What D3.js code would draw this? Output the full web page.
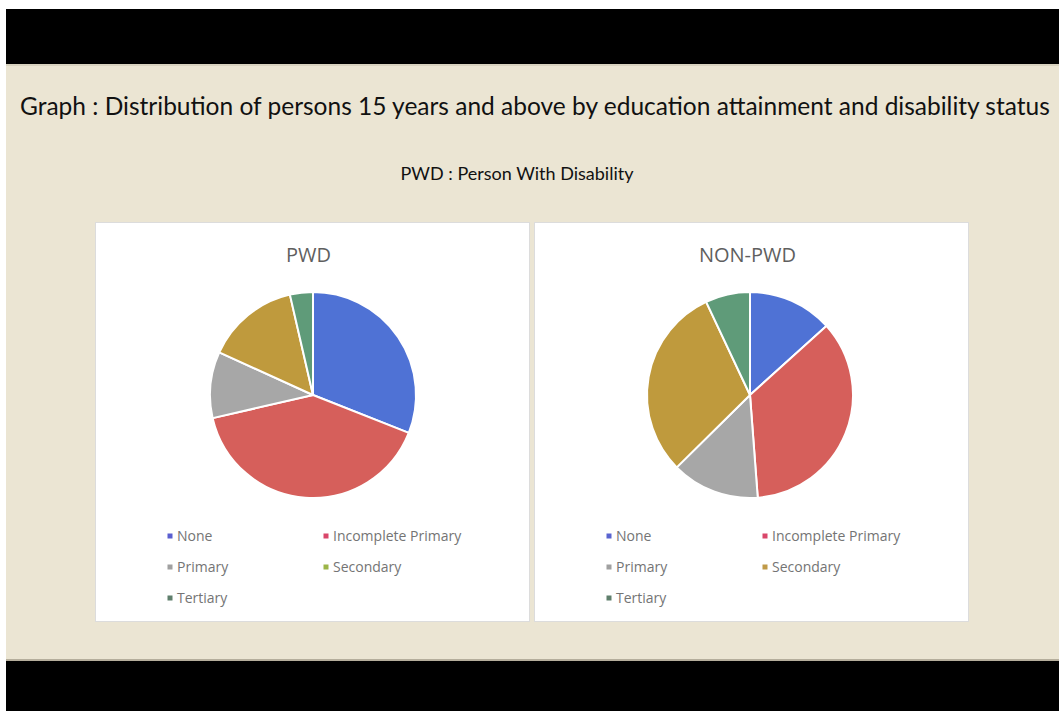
<!DOCTYPE html>
<html>
<head>
<meta charset="utf-8">
<script src="https://cdnjs.cloudflare.com/ajax/libs/d3/7.8.5/d3.min.js"></script>
<style>
  html, body { margin: 0; padding: 0; background: #ffffff; }
  svg { display: block; }
</style>
</head>
<body>
<svg id="chart" width="1059" height="711"></svg>
<script>
// Education attainment categories and shares (%) for persons 15 years and above
const categories = ["None", "Incomplete Primary", "Primary", "Secondary", "Tertiary"];
const pwdValues = [31.0, 40.4, 10.4, 14.6, 3.6];
const nonPwdValues = [13.3, 35.5, 13.8, 30.4, 7.0];
const panelTitles = ["PWD", "NON-PWD"];

const sliceColors = ["#4f72d5", "#d65f5b", "#a7a7a7", "#bf9a3d", "#5f9b79"];
// the PWD legend shows a green swatch for Secondary
const pwdLegendColors = ["#5a5fd0", "#d9466a", "#a0a0a0", "#9cb548", "#5f7f6c"];
const nonPwdLegendColors = ["#5a64d0", "#d9466a", "#a0a0a0", "#c09a48", "#5f7f6c"];

const svg = d3.select("#chart");

// slide frame: black bands top and bottom, beige body
svg.append("rect").attr("x", 6).attr("y", 9).attr("width", 1053).attr("height", 55).attr("fill", "#000000");
svg.append("rect").attr("x", 6).attr("y", 64).attr("width", 1053).attr("height", 597).attr("fill", "#ebe5d3");
svg.append("rect").attr("x", 6).attr("y", 64).attr("width", 1053).attr("height", 2).attr("fill", "#d8d2bf");
svg.append("rect").attr("x", 6).attr("y", 659).attr("width", 1053).attr("height", 2).attr("fill", "#b5ae9c");
svg.append("rect").attr("x", 6).attr("y", 661).attr("width", 1053).attr("height", 50).attr("fill", "#000000");

// main title, sized so it fits the slide width
const title = svg.append("text")
  .attr("x", 20).attr("y", 115)
  .attr("font-family", "Lato, 'Open Sans', sans-serif")
  .attr("font-size", 26)
  .attr("fill", "#111111")
  .text("Graph : Distribution of persons 15 years and above by education attainment and disability status");
let fs = 26;
while (title.node().getComputedTextLength() > 1030 && fs > 12) {
  fs -= 0.25;
  title.attr("font-size", fs);
}

svg.append("text")
  .attr("x", 517).attr("y", 180)
  .attr("text-anchor", "middle")
  .attr("font-family", "Lato, 'Open Sans', sans-serif")
  .attr("font-size", 18)
  .attr("fill", "#111111")
  .text("PWD : Person With Disability");

const panels = [
  { x: 95, title: panelTitles[0], values: pwdValues, legend: pwdLegendColors, cx: 218 },
  { x: 534, title: panelTitles[1], values: nonPwdValues, legend: nonPwdLegendColors, cx: 216 }
];
const panelW = 435, panelTop = 222, panelH = 400;

const pie = d3.pie().sort(null).value(d => d).startAngle(0).endAngle(2 * Math.PI);
const arc = d3.arc().innerRadius(0).outerRadius(103);

panels.forEach(p => {
  const g = svg.append("g").attr("transform", `translate(${p.x},${panelTop})`);
  g.append("rect")
    .attr("x", 0.5).attr("y", 0.5)
    .attr("width", panelW - 1).attr("height", panelH - 1)
    .attr("fill", "#ffffff")
    .attr("stroke", "#dcdcdc");

  g.append("text")
    .attr("x", panelW / 2 - 4).attr("y", 40)
    .attr("text-anchor", "middle")
    .attr("font-family", "'Open Sans', 'Noto Sans', sans-serif")
    .attr("font-size", 20)
    .attr("fill", "#5f5f5f")
    .text(p.title);

  const pg = g.append("g").attr("transform", `translate(${p.cx},173)`);
  pg.selectAll("path")
    .data(pie(p.values))
    .join("path")
    .attr("d", arc)
    .attr("fill", (d, i) => sliceColors[i])
    .attr("stroke", "#ffffff")
    .attr("stroke-width", 2)
    .attr("stroke-linejoin", "round");

  const lx = d3.scalePoint().domain([0, 1]).range([75, 231]);
  const ly = d3.scalePoint().domain([0, 1, 2]).range([314, 376]);
  const items = g.selectAll("g.item")
    .data(categories)
    .join("g")
    .attr("class", "item")
    .attr("transform", (d, i) => `translate(${lx(i % 2)},${ly(Math.floor(i / 2))})`);
  items.append("rect")
    .attr("x", -2.5).attr("y", -2.5)
    .attr("width", 5).attr("height", 5)
    .attr("fill", (d, i) => p.legend[i]);
  items.append("text")
    .attr("x", 7).attr("y", 5)
    .attr("font-family", "'Open Sans', 'Noto Sans', sans-serif")
    .attr("font-size", 14)
    .attr("fill", "#747474")
    .text(d => d);
});
</script>
</body>
</html>
